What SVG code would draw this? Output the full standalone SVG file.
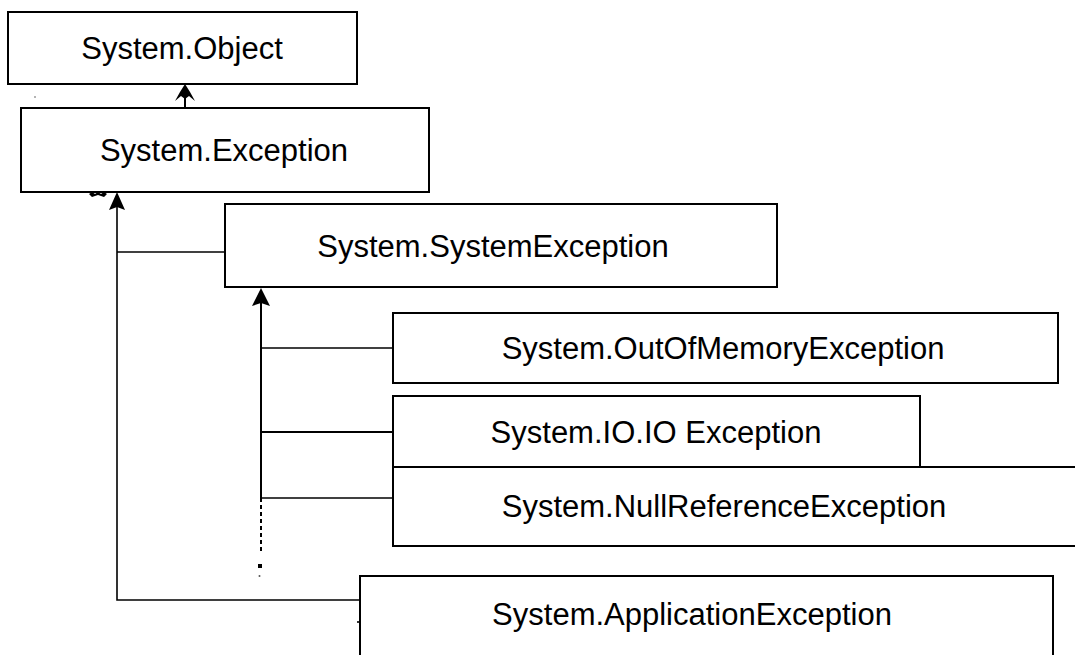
<svg xmlns="http://www.w3.org/2000/svg" width="1075" height="655" viewBox="0 0 1075 655">
<style>
.box{fill:#fff;stroke:#000;stroke-width:2}
.lbl{font-family:"Liberation Sans",Arial,sans-serif;font-size:31px;fill:#000;text-anchor:middle}
.ln{fill:none;stroke:#000;stroke-width:2}
.thin{fill:none;stroke:#000;stroke-width:1.6}
.head{fill:#000}
</style>
<rect width="1075" height="655" fill="#fff"/>
<g id="connectors">
<line class="ln" x1="185" y1="108" x2="185" y2="88" stroke-width="4"/>
<path class="head" d="M175,101 L180,92 L185,84 L190,92 L195,101 L189,96 L185,99 L181,96 Z"/>
<polyline class="thin" points="360,600 117,600 117,200"/>
<path class="head" d="M109,210 L117,192 L125,210 L117,207 Z"/>
<line class="thin" x1="117" y1="252" x2="225" y2="252"/>
<line class="ln" x1="261" y1="498" x2="261" y2="300"/>
<path class="head" d="M252,306 L261,288 L270,306 L261,303 Z"/>
<path class="head" d="M258,287 L261,278 L264,287 Z"/>
<line class="ln" x1="261" y1="498" x2="261" y2="553" stroke-dasharray="4,3"/>
<rect x="258" y="564" width="4" height="4" fill="#000"/>
<circle cx="259.5" cy="576" r="1" fill="#555"/>
<line class="thin" x1="261" y1="348" x2="393" y2="348"/>
<line class="ln" x1="261" y1="432" x2="393" y2="432"/>
<line class="thin" x1="261" y1="498" x2="393" y2="498"/>
<rect x="357" y="621" width="2" height="2" fill="#333"/>
<circle cx="35" cy="97" r="0.8" fill="#555"/>
<path d="M89,194 L92,192 L95,194 L98,192 L101,194 L104,192 L107,194 L104,197 L98,195 L92,197 Z" fill="#000"/>
</g>
<g id="object">
<rect class="box" x="8" y="12" width="349" height="72"/>
<text class="lbl" x="182" y="59">System.Object</text>
</g>
<g id="exception">
<rect class="box" x="21" y="108" width="408" height="84"/>
<text class="lbl" x="224" y="161">System.Exception</text>
</g>
<g id="systemexception">
<rect class="box" x="225" y="204" width="552" height="83"/>
<text class="lbl" x="493" y="257">System.SystemException</text>
</g>
<g id="outofmemory">
<rect class="box" x="393" y="313" width="665" height="70"/>
<text class="lbl" x="723" y="359">System.OutOfMemoryException</text>
</g>
<g id="ioexception">
<rect class="box" x="393" y="396" width="527" height="71"/>
<text class="lbl" x="656" y="443">System.IO.IO Exception</text>
</g>
<g id="nullreference">
<polyline class="box" points="1076,467 393,467 393,546 1076,546"/>
<text class="lbl" x="724" y="517">System.NullReferenceException</text>
</g>
<g id="applicationexception">
<polyline class="box" points="360,660 360,576 1053,576 1053,660"/>
<text class="lbl" x="692" y="625">System.ApplicationException</text>
</g>
</svg>
